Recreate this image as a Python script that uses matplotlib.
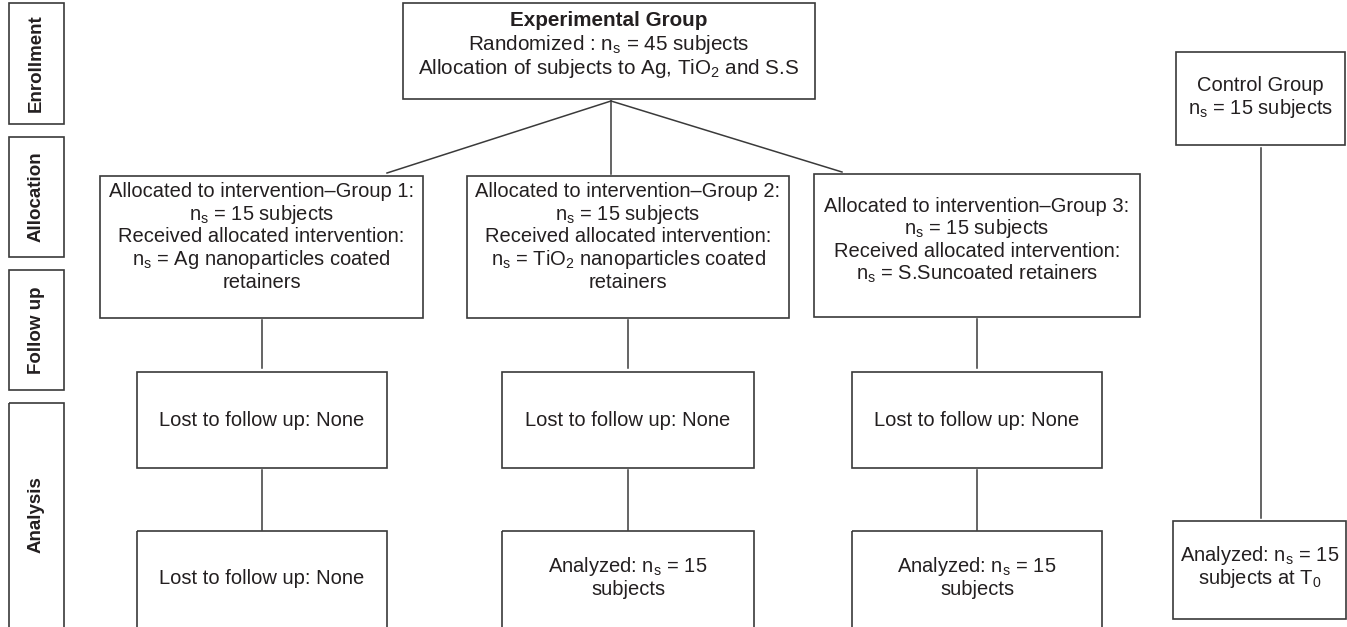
import matplotlib.pyplot as plt
from matplotlib.patches import Rectangle

plt.rcParams['font.family'] = 'Liberation Sans'
plt.rcParams['mathtext.fontset'] = 'custom'
plt.rcParams['mathtext.rm'] = 'Liberation Sans'
plt.rcParams['mathtext.it'] = 'Liberation Sans:italic'
plt.rcParams['mathtext.bf'] = 'Liberation Sans:bold'

INK = '#231f20'
EDGE = '#3a3a3a'

# stage labels down the left side
stages = ['Enrollment', 'Allocation', 'Follow up', 'Analysis']
stage_boxes = [(9, 3, 64, 124), (9, 137, 64, 257), (9, 270, 64, 390), (9, 403, 64, 640)]

# text of each box
top_title = 'Experimental Group'
top_lines = ['Randomized : n$_\\mathrm{s}$ = 45 subjects',
             'Allocation of subjects to Ag, TiO$_\\mathrm{2}$ and S.S']
alloc_text = [
    ['Allocated to intervention\u2013Group 1:', 'n$_\\mathrm{s}$ = 15 subjects',
     'Received allocated intervention:', 'n$_\\mathrm{s}$ = Ag nanoparticles coated', 'retainers'],
    ['Allocated to intervention\u2013Group 2:', 'n$_\\mathrm{s}$ = 15 subjects',
     'Received allocated intervention:', 'n$_\\mathrm{s}$ = TiO$_\\mathrm{2}$ nanoparticles coated', 'retainers'],
    ['Allocated to intervention\u2013Group 3:', 'n$_\\mathrm{s}$ = 15 subjects',
     'Received allocated intervention:', 'n$_\\mathrm{s}$ = S.Suncoated retainers'],
]
followup_text = [['Lost to follow up: None']] * 3
analysis_text = [['Lost to follow up: None'],
                 ['Analyzed: n$_\\mathrm{s}$ = 15', 'subjects'],
                 ['Analyzed: n$_\\mathrm{s}$ = 15', 'subjects']]
control_text = ['Control Group', 'n$_\\mathrm{s}$ = 15 subjects']
control_analysis_text = ['Analyzed: n$_\\mathrm{s}$ = 15', 'subjects at T$_\\mathrm{0}$']

# box layout in pixels (x0, y0, x1, y1), y downward
top_box = (403, 3, 815, 99)
alloc_boxes = [(100, 176, 423, 318), (467, 176, 789, 318), (814, 174, 1140, 317)]
followup_boxes = [(137, 372, 387, 468), (502, 372, 754, 468), (852, 372, 1102, 468)]
analysis_boxes = [(137, 531, 387, 640), (502, 531, 754, 640), (852, 531, 1102, 640)]
control_box = (1176, 52, 1345, 145)
control_analysis_box = (1173, 521, 1346, 619)

FS = 14.5
LS = 22.6

fig = plt.figure(figsize=(13.47, 6.27), dpi=100)
ax = fig.add_axes([0, 0, 1, 1])
ax.set_xlim(0, 1347)
ax.set_ylim(627, 0)
ax.axis('off')


def box(b, lw=1.2):
    x0, y0, x1, y1 = b
    ax.add_patch(Rectangle((x0, y0), x1 - x0, y1 - y0, fill=False, ec=EDGE, lw=lw))


def lines(b, txt, yc, ls=LS, fs=FS, bold_first=False):
    cx = (b[0] + b[2]) / 2
    start = yc - ls * (len(txt) - 1) / 2
    for i, t in enumerate(txt):
        ax.text(cx, start + i * ls, t, ha='center', va='center', fontsize=fs, color=INK,
                fontweight='bold' if (bold_first and i == 0) else 'normal')


for name, b in zip(stages, stage_boxes):
    box(b)
    yc = (b[1] + min(b[3], 627)) / 2
    ax.text((b[0] + b[2]) / 2, yc, name, rotation=90, ha='center', va='center',
            fontsize=13.5, fontweight='bold', color=INK)

box(top_box)
lines(top_box, [top_title] + top_lines, yc=45, ls=24, fs=14.9, bold_first=True)

# branches from the experimental group
apex = ((top_box[0] + top_box[2]) / 2 + 2, top_box[3] + 2)
branch_ends = [(387, 173), (apex[0], 174), (842, 172)]
for ex, ey in branch_ends:
    ax.plot([apex[0], ex], [apex[1], ey], color=EDGE, lw=1.1)

for b, t in zip(alloc_boxes, alloc_text):
    box(b)
    lines(b, t, yc=237 if len(t) == 5 else 240)

for a, f, n, ft, nt in zip(alloc_boxes, followup_boxes, analysis_boxes, followup_text, analysis_text):
    box(f)
    box(n)
    cx = (f[0] + f[2]) / 2
    ax.plot([cx, cx], [a[3] + 2, f[1] - 4], color=EDGE, lw=1.1)
    ax.plot([cx, cx], [f[3] + 2, n[1] - 1], color=EDGE, lw=1.1)
    lines(f, ft, yc=420)
    lines(n, nt, yc=578, ls=23)

box(control_box)
lines(control_box, control_text, yc=97, ls=23)
box(control_analysis_box)
lines(control_analysis_box, control_analysis_text, yc=567, ls=23)
cx = (control_box[0] + control_box[2]) / 2
ax.plot([cx, cx], [control_box[3] + 3, control_analysis_box[1] - 3], color=EDGE, lw=1.1)

fig.savefig('out.png', dpi=100)
